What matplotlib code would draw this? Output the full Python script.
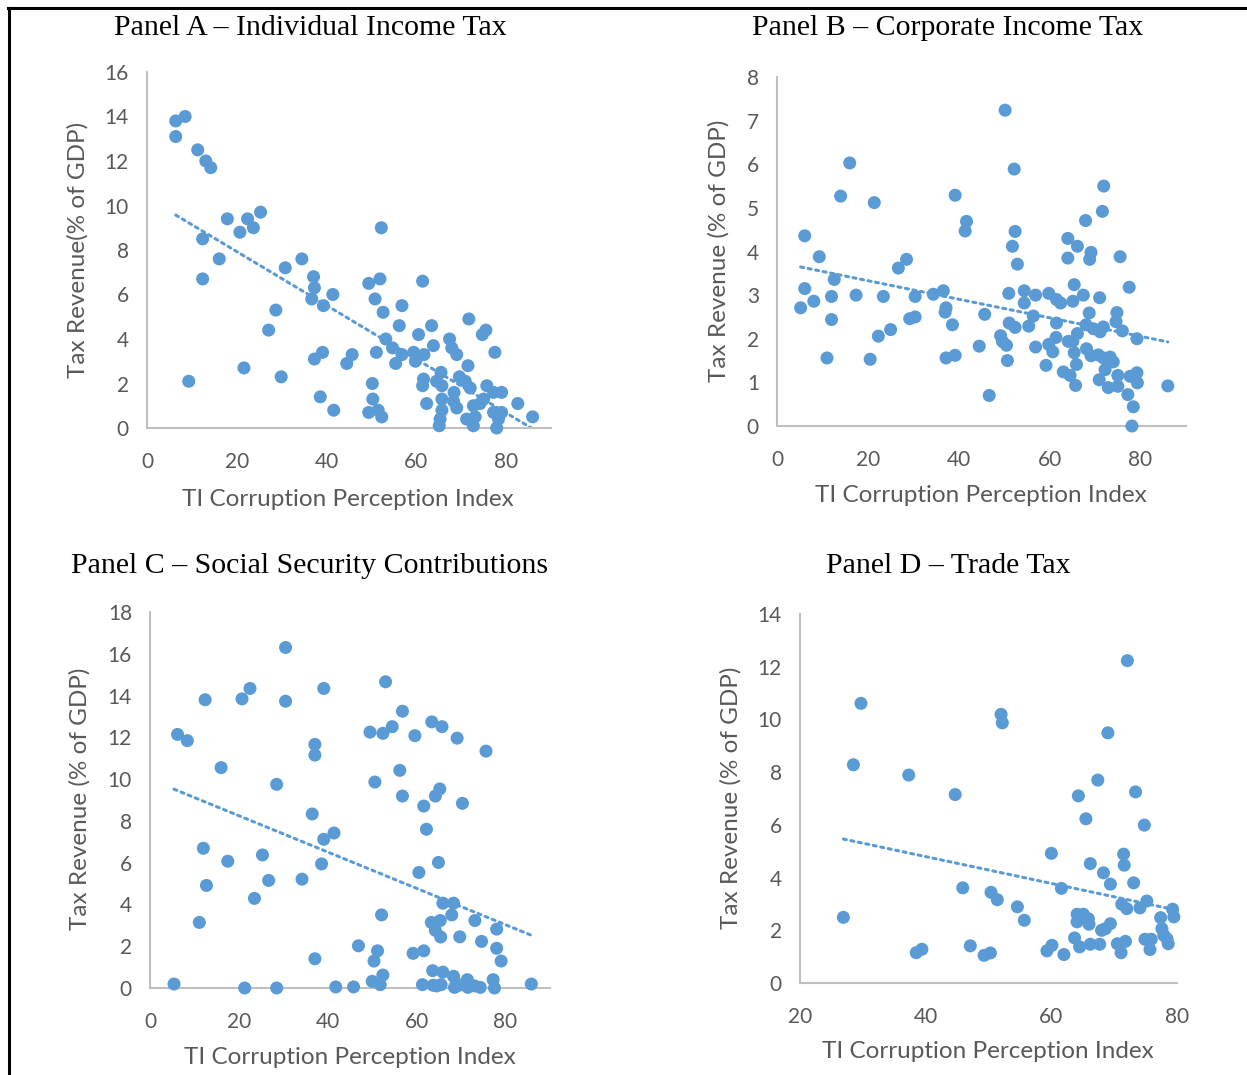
import numpy as np
import matplotlib
matplotlib.use("Agg")
import matplotlib.pyplot as plt
from matplotlib.lines import Line2D

# ---------------- Data ----------------
# Panel A - Individual Income Tax
a_x = [6.4, 8.5, 6.4, 11.3, 13.1, 14.2, 17.9, 22.4, 25.3, 20.7, 23.7, 12.4, 16.1, 12.4, 9.3,
       52.2, 34.5, 30.8, 37.1, 37.3, 36.7, 41.4, 39.3, 49.4, 51.9, 61.4, 50.8, 52.6, 56.8, 56.2,
       28.7, 27.1, 21.6, 29.9, 71.7, 63.4, 60.5, 74.7, 75.5, 53.2, 67.4, 63.8, 54.7, 56.8, 51.1,
       59.4, 61.7, 59.8, 55.4, 67.9, 69.0, 77.5, 39.1, 37.3, 45.7, 44.5, 71.5, 65.5, 69.6, 61.6,
       61.4, 64.5, 65.7, 70.9, 72.0, 50.2, 75.7, 79.0, 77.2, 68.4, 75.0, 82.6, 62.3, 65.7, 68.3,
       69.0, 50.3, 38.6, 41.6, 49.4, 51.5, 52.3, 65.7, 65.3, 65.1, 72.7, 71.2, 73.1, 72.7, 77.2,
       79.0, 78.3, 77.9, 85.9, 74.2]
a_y = [13.8, 14.0, 13.1, 12.5, 12.0, 11.7, 9.4, 9.4, 9.7, 8.8, 9.0, 8.5, 7.6, 6.7, 2.1,
       9.0, 7.6, 7.2, 6.8, 6.3, 5.8, 6.0, 5.5, 6.5, 6.7, 6.6, 5.8, 5.2, 5.5, 4.6,
       5.3, 4.4, 2.7, 2.3, 4.9, 4.6, 4.2, 4.2, 4.4, 4.0, 4.0, 3.7, 3.6, 3.3, 3.4,
       3.4, 3.3, 3.0, 2.9, 3.6, 3.3, 3.4, 3.4, 3.1, 3.3, 2.9, 2.8, 2.5, 2.3, 2.2,
       1.9, 2.1, 1.9, 2.1, 1.8, 2.0, 1.9, 1.6, 1.6, 1.6, 1.3, 1.1, 1.1, 1.3, 1.2,
       0.9, 1.3, 1.4, 0.8, 0.7, 0.8, 0.5, 0.8, 0.4, 0.1, 1.0, 0.4, 0.5, 0.1, 0.7,
       0.7, 0.4, 0.0, 0.5, 1.1]

# Panel B - Corporate Income Tax
b_x = [50.2, 16.0, 52.2, 14.0, 21.4, 39.2, 71.9, 71.6, 41.7, 41.4, 67.9, 52.4, 51.8, 52.9, 6.1,
       9.3, 64.0, 66.1, 69.1, 68.8, 64.0, 75.5, 28.5, 26.7, 12.6, 6.1, 12.0, 8.1, 5.2, 17.4,
       23.4, 30.4, 34.4, 36.6, 12.0, 22.3, 25.0, 29.2, 30.4, 37.2, 37.0, 38.6, 11.0, 20.5, 37.2,
       39.2, 44.5, 45.7, 46.7, 51.0, 54.4, 54.4, 56.9, 59.8, 61.5, 62.4, 65.4, 67.4, 65.1, 71.0,
       77.5, 51.1, 52.4, 49.2, 49.6, 50.5, 50.7, 56.4, 55.4, 61.5, 56.9, 59.8, 60.7, 61.4, 59.2,
       64.1, 66.1, 65.1, 68.7, 68.0, 69.6, 71.1, 71.8, 74.8, 74.6, 76.0, 79.2, 65.4, 68.1, 69.1,
       70.7, 71.8, 73.3, 74.0, 72.2, 65.9, 63.0, 64.5, 65.7, 70.9, 72.9, 75.0, 75.0, 77.7, 79.2,
       79.3, 77.2, 78.4, 78.1, 86.0]
b_y = [7.24, 6.03, 5.89, 5.27, 5.12, 5.29, 5.50, 4.92, 4.69, 4.47, 4.71, 4.46, 4.12, 3.71, 4.36,
       3.88, 4.30, 4.12, 3.98, 3.82, 3.85, 3.88, 3.82, 3.62, 3.36, 3.15, 2.97, 2.86, 2.71, 3.00,
       2.97, 2.97, 3.02, 3.10, 2.44, 2.06, 2.21, 2.46, 2.50, 2.71, 2.61, 2.32, 1.56, 1.53, 1.56,
       1.62, 1.83, 2.56, 0.70, 3.04, 3.10, 2.82, 3.00, 3.04, 2.90, 2.82, 3.24, 3.00, 2.86, 2.94,
       3.18, 2.36, 2.26, 2.07, 1.94, 1.85, 1.50, 2.52, 2.29, 2.36, 1.81, 1.87, 1.70, 2.03, 1.39,
       1.94, 2.12, 1.94, 2.59, 2.32, 2.23, 2.16, 2.27, 2.60, 2.39, 2.18, 2.00, 1.68, 1.77, 1.61,
       1.63, 1.56, 1.58, 1.47, 1.29, 1.41, 1.24, 1.16, 0.93, 1.06, 0.88, 0.91, 1.16, 1.14, 1.22,
       0.99, 0.72, 0.44, 0.00, 0.92]

# Panel C - Social Security Contributions
c_x = [30.5, 53.0, 22.5, 20.7, 12.4, 30.5, 39.1, 56.8, 63.4, 65.7, 54.5, 52.4, 49.5, 59.6, 69.1,
       75.6, 6.2, 8.4, 37.1, 37.1, 16.0, 28.5, 56.2, 50.6, 56.8, 65.2, 64.2, 61.6, 70.3, 36.5,
       62.2, 41.4, 39.1, 12.0, 17.5, 25.3, 38.6, 64.9, 60.5, 12.7, 26.7, 34.2, 23.5, 11.1, 65.9,
       68.3, 52.1, 67.9, 63.3, 65.3, 73.1, 64.2, 78.0, 65.4, 69.7, 74.6, 46.9, 78.0, 51.2, 59.2,
       61.6, 50.4, 79.0, 37.1, 63.6, 65.9, 68.3, 52.4, 50.0, 51.8, 71.4, 77.2, 5.4, 21.3, 28.5,
       41.8, 45.8, 61.3, 63.7, 65.5, 68.5, 71.5, 74.3, 77.5, 85.8, 69.5, 64.5, 69.0, 73.0]
c_y = [16.3, 14.66, 14.34, 13.84, 13.80, 13.73, 14.34, 13.25, 12.74, 12.51, 12.51, 12.19, 12.25, 12.08, 11.96,
       11.34, 12.14, 11.84, 11.66, 11.15, 10.55, 9.75, 10.42, 9.86, 9.19, 9.53, 9.19, 8.71, 8.84, 8.33,
       7.60, 7.42, 7.12, 6.69, 6.07, 6.37, 5.94, 6.01, 5.53, 4.91, 5.15, 5.21, 4.29, 3.14, 4.06,
       4.06, 3.50, 3.50, 3.14, 3.23, 3.23, 2.76, 2.82, 2.44, 2.45, 2.23, 2.02, 1.90, 1.78, 1.66,
       1.78, 1.29, 1.29, 1.40, 0.83, 0.76, 0.56, 0.62, 0.32, 0.16, 0.40, 0.40, 0.19, 0.0, 0.0,
       0.05, 0.05, 0.16, 0.13, 0.16, 0.03, 0.03, 0.03, 0.0, 0.19, 0.13, 0.10, 0.20, 0.10]

# Panel D - Trade Tax
d_x = [72.1, 29.7, 52.0, 52.2, 69.0, 28.5, 37.3, 44.7, 67.4, 73.4, 64.3, 65.5, 74.8, 60.0, 71.5,
       71.6, 66.2, 68.3, 69.4, 73.1, 61.6, 45.9, 50.4, 51.4, 54.6, 55.7, 26.9, 71.2, 72.0, 74.1,
       75.2, 79.3, 79.5, 77.4, 64.1, 65.1, 65.9, 64.1, 66.0, 69.4, 68.6, 68.0, 77.6, 77.9, 78.4,
       78.6, 74.9, 75.9, 75.7, 70.5, 71.8, 71.1, 63.7, 64.5, 66.2, 67.7, 60.1, 59.3, 62.0, 47.1,
       49.3, 50.3, 38.5, 39.4]
d_y = [12.23, 10.61, 10.19, 9.87, 9.49, 8.28, 7.89, 7.15, 7.70, 7.25, 7.10, 6.23, 5.99, 4.92, 4.89,
       4.47, 4.53, 4.18, 3.75, 3.80, 3.59, 3.61, 3.44, 3.16, 2.89, 2.38, 2.49, 2.99, 2.82, 2.85,
       3.11, 2.80, 2.51, 2.48, 2.61, 2.61, 2.44, 2.32, 2.23, 2.25, 2.06, 2.00, 2.06, 1.81, 1.68,
       1.49, 1.66, 1.66, 1.27, 1.49, 1.58, 1.15, 1.71, 1.37, 1.47, 1.47, 1.43, 1.22, 1.08, 1.41,
       1.05, 1.14, 1.15, 1.28]

titles = ["Panel A \u2013 Individual Income Tax", "Panel B \u2013 Corporate Income Tax",
          "Panel C \u2013 Social Security Contributions", "Panel D \u2013 Trade Tax"]
ylabels = ["Tax Revenue(% of GDP)", "Tax Revenue (% of GDP)",
           "Tax Revenue (% of GDP)", "Tax Revenue (% of GDP)"]
xlabel = "TI Corruption Perception Index"

xticks_list = [[0, 20, 40, 60, 80], [0, 20, 40, 60, 80], [0, 20, 40, 60, 80], [20, 40, 60, 80]]
yticks_list = [list(range(0, 17, 2)), list(range(0, 9, 1)), list(range(0, 19, 2)), list(range(0, 15, 2))]
xlims = [(0, 90), (0, 90), (0, 90), (20, 80)]

# ---------------- Layout ----------------
W, H = 1247, 1075
fig = plt.figure(figsize=(W / 100, H / 100), dpi=100)
fig.patch.set_facecolor("white")

def fx(px):
    return px / W

def fy(py):
    return 1 - py / H

# axes boxes in pixel coords: (left, top, right, bottom)
boxes = [(147, 72, 551, 428), (777, 77, 1186, 426), (150, 612, 550, 988), (800, 614, 1177, 983)]
title_pos = [(310, 28), (948, 28), (310, 566), (948, 566)]
xlabel_pos = [(348, 499), (981, 496), (350, 1058), (988, 1052)]
ylabel_pos = [(78, 250), (719, 251), (80, 799), (731, 798)]

BLUE = "#5B9BD5"
GRAY_TXT = "#595959"
SPINE = "#BFBFBF"
sans = ["Lato", "DejaVu Sans"]
serif = ["Liberation Serif", "DejaVu Serif"]

data = [(a_x, a_y), (b_x, b_y), (c_x, c_y), (d_x, d_y)]

for i, (l, t, r, b) in enumerate(boxes):
    ax = fig.add_axes([fx(l), fy(b), fx(r - l), (b - t) / H])
    x = np.array(data[i][0])
    y = np.array(data[i][1])
    ax.scatter(x, y, s=88, color=BLUE, edgecolors="none", zorder=3, clip_on=False)
    k, c0 = np.polyfit(x, y, 1)
    xs = np.array([x.min(), x.max()])
    ax.plot(xs, k * xs + c0, linestyle=(0, (1, 1.5)), color=BLUE, lw=2.2,
            dash_capstyle="round", zorder=2)
    ax.set_xlim(*xlims[i])
    ax.set_ylim(yticks_list[i][0], yticks_list[i][-1])
    ax.set_xticks(xticks_list[i])
    ax.set_yticks(yticks_list[i])
    for s in ["top", "right"]:
        ax.spines[s].set_visible(False)
    for s in ["left", "bottom"]:
        ax.spines[s].set_color(SPINE)
        ax.spines[s].set_linewidth(1.5)
    ax.tick_params(axis="both", length=0, labelsize=15, labelcolor=GRAY_TXT)
    ax.tick_params(axis="y", pad=13)
    ax.tick_params(axis="x", pad=17)
    for lab in ax.get_xticklabels() + ax.get_yticklabels():
        lab.set_family(sans)
    ax.set_facecolor("none")

    tx, ty = title_pos[i]
    fig.text(fx(tx), fy(ty), titles[i], ha="center", va="center", fontsize=21.5,
             family=serif, color="black")
    lx, ly = xlabel_pos[i]
    fig.text(fx(lx), fy(ly), xlabel, ha="center", va="center", fontsize=17.5,
             family=sans, color=GRAY_TXT)
    vx, vy = ylabel_pos[i]
    fig.text(fx(vx), fy(vy), ylabels[i], ha="center", va="center", fontsize=17.5,
             family=sans, color=GRAY_TXT, rotation=90)

# outer frame lines (top and left)
fig.add_artist(Line2D([fx(8), fx(W)], [fy(7.5), fy(7.5)], color="black", lw=2.2))
fig.add_artist(Line2D([fx(9), fx(9)], [fy(7.5), fy(H)], color="black", lw=2.2))

fig.savefig("out.png", dpi=100, facecolor="white")
